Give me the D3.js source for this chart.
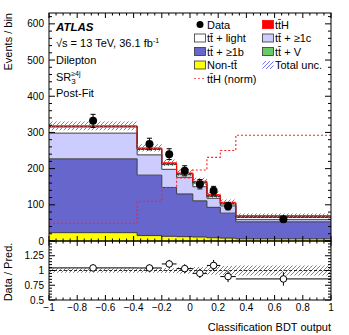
<!DOCTYPE html>
<html><head><meta charset="utf-8">
<script src="https://cdn.jsdelivr.net/npm/d3@7/dist/d3.min.js"></script>
<style>body{margin:0;background:#fff}svg{display:block;font-family:"Liberation Sans",Arial,sans-serif}</style>
</head><body><svg id="c" width="349" height="335"></svg>
<script>
// ---------- data ----------
const binEdges = [-1, -0.375, -0.2, -0.095, 0.02, 0.12, 0.215, 0.325, 1];
const nonTT   = [23, 15, 13, 12, 11, 9, 8, 6];
const ttb     = [204, 167, 135, 118, 100, 84, 69, 47];
const ttc     = [71, 56, 50, 46, 39, 25, 20, 6];
const ttlight = [17, 15, 13, 7, 10, 5, 5, 6];
const ttV     = [2, 2, 2, 2, 2, 2, 2, 2];
const ttH     = [1, 2, 3, 3, 3, 3, 3, 3];
const totUnc  = [12, 10, 9, 10, 10, 9, 8, 6];
const dataVal = [332, 268, 240, 194, 157, 139, 96, 60];
const dataErr = [18, 16, 15, 14, 13, 12, 10, 8];
const ttHnorm = [49, 110, 148, 174, 196, 231, 250, 292];
const xTickLabels = ["\u22121","\u22120.8","\u22120.6","\u22120.4","\u22120.2","0","0.2","0.4","0.6","0.8","1"];
const yTickLabels = ["0","100","200","300","400","500","600"];
const rTickLabels = ["0.5","0.75","1","1.25"];

// ---------- layout ----------
const L = 49, R = 331, T = 13, MB = 241, RB = 300;
const HATCH = "#7272ff";
const svg = d3.select("#c");
const x = d3.scaleLinear().domain([-1, 1]).range([L, R]);
const y = d3.scaleLinear().domain([0, 630]).range([MB, T]);
const yr = d3.scaleLinear().domain([0.5, 1.5]).range([RB, MB]);

const defs = svg.append("defs");
defs.append("clipPath").attr("id","cm").append("rect").attr("x",L).attr("y",T).attr("width",R-L).attr("height",MB-T);
defs.append("clipPath").attr("id","cr").append("rect").attr("x",L).attr("y",MB).attr("width",R-L).attr("height",RB-MB);

function hatch(parent, d, id, x0, x1, y0, y1) {
  defs.append("clipPath").attr("id", id).append("path").attr("d", d);
  const g = parent.append("g").attr("clip-path", "url(#" + id + ")");
  const h = y1 - y0;
  for (let s = x0 - h; s <= x1 + 4; s += 4) {
    g.append("line").attr("x1", s).attr("y1", y1).attr("x2", s + h).attr("y2", y0)
      .attr("stroke", HATCH).attr("stroke-width", 1);
  }
}

const bins = d3.range(binEdges.length - 1).map(i => ({i, x0: binEdges[i], x1: binEdges[i+1], xc: (binEdges[i]+binEdges[i+1])/2}));
const keys = ["nonTT","ttb","ttc","ttlight","ttV","ttH"];
const series = {nonTT, ttb, ttc, ttlight, ttV, ttH};
const colors = {nonTT:"#ffff00", ttb:"#6666cc", ttc:"#ccccff", ttlight:"#ffffff", ttV:"#66cc66", ttH:"#ff0000"};
const table = bins.map(b => { const o = {}; keys.forEach(k => o[k] = series[k][b.i]); return o; });
const stacked = d3.stack().keys(keys)(table);
const total = bins.map(b => d3.sum(keys, k => series[k][b.i]));

const gm = svg.append("g").attr("clip-path","url(#cm)");
function stepPts(vals, scale) {
  const pts = [];
  bins.forEach((b, i) => { pts.push([x(b.x0), scale(vals[i])], [x(b.x1), scale(vals[i])]); });
  return pts;
}
const line = d3.line();
stacked.forEach(layer => {
  const top = stepPts(layer.map(d => d[1]), y);
  const bot = stepPts(layer.map(d => d[0]), y).reverse();
  gm.append("path").attr("d", line(top.concat(bot)) + "Z").attr("fill", colors[layer.key]);
});
stacked.forEach(layer => {
  const col = layer.key === "ttH" ? "#ff0000" : "#3a3a3a";
  gm.append("path").attr("d", line(stepPts(layer.map(d => d[1]), y))).attr("fill","none")
    .attr("stroke", col).attr("stroke-width", 1);
});
// uncertainty band
hatch(gm, line(stepPts(total.map((t,i)=>t+totUnc[i]), y).concat(stepPts(total.map((t,i)=>t-totUnc[i]), y).reverse())) + "Z",
  "hm", L, R, T, MB);
// ttH norm
gm.append("path").attr("d", line(stepPts(ttHnorm, y)))
  .attr("fill","none").attr("stroke","#ff2020").attr("stroke-width",1.1).attr("stroke-dasharray","2,2");
// data
const gd = svg.append("g");
bins.forEach((b, i) => {
  const cx = x(b.xc);
  gd.append("line").attr("x1",cx).attr("x2",cx).attr("y1",y(dataVal[i]-dataErr[i])).attr("y2",y(dataVal[i]+dataErr[i])).attr("stroke","#000").attr("stroke-width",1);
  [dataVal[i]-dataErr[i], dataVal[i]+dataErr[i]].forEach(v => gd.append("line").attr("x1",cx-2.5).attr("x2",cx+2.5).attr("y1",y(v)).attr("y2",y(v)).attr("stroke","#000"));
  gd.append("circle").attr("cx",cx).attr("cy",y(dataVal[i])).attr("r",4).attr("fill","#000");
});

// ---------- ratio ----------
const gr = svg.append("g").attr("clip-path","url(#cr)");
hatch(gr, line(stepPts(total.map((t,i)=>1+totUnc[i]/t), yr).concat(stepPts(total.map((t,i)=>1-totUnc[i]/t), yr).reverse())) + "Z",
  "hr", L, R, MB, RB);
gr.append("line").attr("x1",L).attr("x2",R).attr("y1",yr(1)).attr("y2",yr(1)).attr("stroke","#000").attr("stroke-dasharray","3,2").attr("stroke-width",0.8);
bins.forEach((b, i) => {
  const r = dataVal[i]/total[i], re = dataErr[i]/total[i], cx = x(b.xc);
  gr.append("line").attr("x1",x(b.x0)).attr("x2",x(b.x1)).attr("y1",yr(r)).attr("y2",yr(r)).attr("stroke","#000");
  gr.append("line").attr("x1",cx).attr("x2",cx).attr("y1",yr(r-re)).attr("y2",yr(r+re)).attr("stroke","#000");
  gr.append("circle").attr("cx",cx).attr("cy",yr(r)).attr("r",3.3).attr("fill","#fff").attr("stroke","#000").attr("stroke-width",1);
});

// ---------- frames and ticks ----------
const ga = svg.append("g").attr("stroke","#000").attr("fill","none");
ga.append("rect").attr("x",L).attr("y",T).attr("width",R-L).attr("height",MB-T).attr("stroke-width",1);
ga.append("rect").attr("x",L).attr("y",MB).attr("width",R-L).attr("height",RB-MB).attr("stroke-width",1);
function xTicks(top, bot) {
  d3.range(-1, 1.0001, 0.05).forEach(v => {
    const major = Math.abs(Math.round(v*5) - v*5) < 1e-6;
    const len = major ? 5 : 2.5, px = x(v);
    ga.append("line").attr("x1",px).attr("x2",px).attr("y1",bot).attr("y2",bot-len);
    ga.append("line").attr("x1",px).attr("x2",px).attr("y1",top).attr("y2",top+len);
  });
}
xTicks(T, MB); xTicks(MB, RB);
d3.range(0, 631, 20).forEach(v => {
  const major = v % 100 === 0, len = major ? 6 : 3, py = y(v);
  ga.append("line").attr("x1",L).attr("x2",L+len).attr("y1",py).attr("y2",py);
  ga.append("line").attr("x1",R).attr("x2",R-len).attr("y1",py).attr("y2",py);
});
d3.range(0.5, 1.5001, 0.05).forEach(v => {
  const major = Math.abs(Math.round(v*4) - v*4) < 1e-6, len = major ? 6 : 3, py = yr(v);
  ga.append("line").attr("x1",L).attr("x2",L+len).attr("y1",py).attr("y2",py);
  ga.append("line").attr("x1",R).attr("x2",R-len).attr("y1",py).attr("y2",py);
});
const gt = svg.append("g").attr("font-size",10).attr("fill","#000");
xTickLabels.forEach((t, i) => gt.append("text").attr("x", x(-1 + 0.2*i)).attr("y", 311).attr("text-anchor","middle").text(t));
yTickLabels.forEach((t, i) => gt.append("text").attr("x", 44).attr("y", y(100*i) + 3.5).attr("text-anchor","end").text(t));
rTickLabels.forEach((t, i) => gt.append("text").attr("x", 44).attr("y", yr(0.5 + 0.25*i) + 3.5).attr("text-anchor","end").text(t));
gt.append("text").attr("transform","translate(12,13) rotate(-90)").attr("text-anchor","end").attr("font-size",11).text("Events / bin");
gt.append("text").attr("transform","translate(12,272) rotate(-90)").attr("text-anchor","middle").attr("font-size",11).text("Data / Pred.");
gt.append("text").attr("x", R).attr("y", 331).attr("text-anchor","end").attr("font-size",11).text("Classification BDT output");

// ---------- labels ----------
const gl = svg.append("g").attr("font-size",11).attr("fill","#000");
gl.append("text").attr("x",56).attr("y",31).attr("font-weight","bold").attr("font-style","italic").attr("font-size",11.5).text("ATLAS");
const s1 = gl.append("text").attr("x",56).attr("y",47);
s1.append("tspan").text("\u221As = 13 TeV, 36.1 fb");
s1.append("tspan").attr("dy",-4).attr("font-size",7).text("-1");
gl.append("text").attr("x",56).attr("y",64).text("Dilepton");
const s2 = gl.append("text").attr("x",56).attr("y",81);
s2.append("tspan").text("SR");
s2.append("tspan").attr("dy",3).attr("font-size",8).text("3");
s2.append("tspan").attr("dx",-4.5).attr("dy",-8).attr("font-size",7).text("\u22654j");
gl.append("text").attr("x",56).attr("y",97).text("Post-Fit");

// ---------- legend ----------
const tt = "tt\u0304";
const leg = [
  {c:0, r:0, type:"data", label:"Data"},
  {c:1, r:0, type:"box", fill:colors.ttH, stroke:"#ff0000", label:tt+"H"},
  {c:0, r:1, type:"box", fill:colors.ttlight, label:tt+" + light"},
  {c:1, r:1, type:"box", fill:colors.ttc, label:tt+" + \u22651c"},
  {c:0, r:2, type:"box", fill:colors.ttb, label:tt+" + \u22651b"},
  {c:1, r:2, type:"box", fill:colors.ttV, label:tt+" + V"},
  {c:0, r:3, type:"box", fill:colors.nonTT, label:"Non-"+tt},
  {c:1, r:3, type:"hatch", label:"Total unc."},
  {c:0, r:4, type:"dash", label:tt+"H (norm)"}
];
const colX = [194, 262], rowY = [24.5, 38, 51.5, 65, 78.5];
leg.forEach(e => {
  const bx = colX[e.c], cy = rowY[e.r];
  if (e.type === "data") svg.append("circle").attr("cx",bx+6).attr("cy",cy).attr("r",3.5).attr("fill","#000");
  else if (e.type === "box") svg.append("rect").attr("x",bx+0.5).attr("y",cy-4).attr("width",11).attr("height",8).attr("fill",e.fill).attr("stroke",e.stroke || "#333").attr("stroke-width",0.8);
  else if (e.type === "hatch") hatch(svg, `M${bx+0.5},${cy-4}h11v8h-11Z`, "hl", bx, bx+12, cy-4, cy+4);
  else svg.append("line").attr("x1",bx).attr("x2",bx+12).attr("y1",cy).attr("y2",cy).attr("stroke","#ff6060").attr("stroke-width",1.1).attr("stroke-dasharray","2,2");
  svg.append("text").attr("x",bx+13).attr("y",cy+4).attr("font-size",11).text(e.label);
});
</script></body></html>
